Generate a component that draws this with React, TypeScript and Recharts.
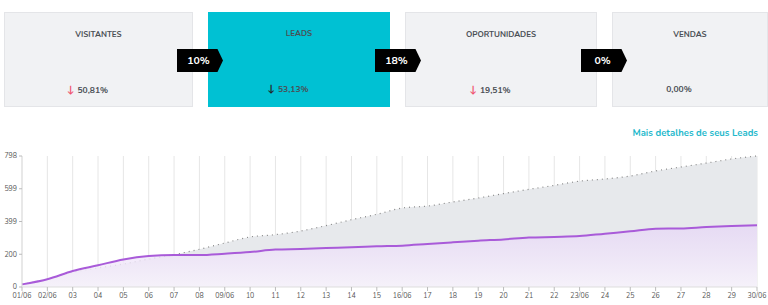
import { ComposedChart, Area, XAxis, YAxis, CartesianGrid } from 'recharts'

const days = [
  '01/06', '02/06', '03', '04', '05', '06', '07', '08', '09/06', '10',
  '11', '12', '13', '14', '15', '16/06', '17', '18', '19', '20',
  '21', '22', '23/06', '24', '25', '26', '27', '28', '29', '30/06',
]
const totals = [
  16, 47, 90, 116, 140, 170, 197, 230, 268, 305,
  319, 341, 374, 410, 443, 481, 493, 518, 542, 569,
  595, 619, 645, 658, 676, 707, 731, 755, 780, 798,
]
const leads = [
  16, 47, 97, 132, 168, 189, 195, 195, 203, 213,
  228, 232, 238, 242, 248, 252, 262, 272, 282, 290,
  301, 305, 310, 325, 339, 355, 357, 365, 371, 376,
]
const yTicks = [0, 199.5, 399, 598.5, 798]

const cardTitles = ['VISITANTES', 'LEADS', 'OPORTUNIDADES', 'VENDAS']
const cardValues = ['50,81%', '53,13%', '19,51%', '0,00%']
const cardArrows = ['red', 'black', 'red', '']
const rates = ['10%', '18%', '0%']

const cardX = [4, 208, 405, 612]
const cardW = [189, 182, 192, 156]
const badgeX = [177, 375, 581]

const data = days.map((d, i) => ({ day: d, total: totals[i], leads: leads[i] }))

const font = 'Nunito, Lato, "Open Sans", sans-serif'

function Card({ i }: { i: number }) {
  const active = i === 1
  const arrow = cardArrows[i]
  return (
    <div
      style={{
        position: 'absolute', left: cardX[i], top: 12, width: cardW[i], height: 95,
        background: active ? '#00c1d3' : '#f1f2f4',
        border: active ? 'none' : '1px solid #e4e5e8', boxSizing: 'border-box',
      }}
    >
      <div style={{ position: 'absolute', top: 16, width: '100%', textAlign: 'center', fontSize: 8, fontWeight: 700, color: '#4a4f55' }}>
        {cardTitles[i]}
      </div>
      <div style={{ position: 'absolute', top: 70, width: '100%', paddingRight: 22, boxSizing: 'border-box', textAlign: 'center', fontSize: 8.5, fontWeight: 700, color: '#4a4f55' }}>
        {arrow && (
          <span style={{ color: arrow === 'red' ? '#f0506e' : '#222', marginRight: 3, fontSize: 10 }}>↓</span>
        )}
        {cardValues[i]}
      </div>
    </div>
  )
}

function Badge({ i }: { i: number }) {
  return (
    <div
      style={{
        position: 'absolute', left: badgeX[i], top: 49, width: 46, height: 23,
        background: '#000', color: '#fff', fontSize: 10.5, fontWeight: 700,
        clipPath: 'polygon(0 0, 88% 0, 100% 50%, 88% 100%, 0 100%)',
        display: 'flex', alignItems: 'center', justifyContent: 'center', paddingRight: 3, boxSizing: 'border-box',
      }}
    >
      {rates[i]}
    </div>
  )
}

export default function App() {
  return (
    <div style={{ position: 'absolute', left: 0, top: 0, width: 768, height: 305, background: '#fff', fontFamily: font, overflow: 'hidden' }}>
      {cardTitles.map((_, i) => <Card key={i} i={i} />)}
      {rates.map((_, i) => <Badge key={i} i={i} />)}
      <div style={{ position: 'absolute', right: 10, top: 126, fontSize: 9.5, fontWeight: 700, color: '#1fb9cc' }}>
        Mais detalhes de seus Leads
      </div>
      <div style={{ position: 'absolute', left: 0, top: 140 }}>
        <ComposedChart width={768} height={165} data={data} margin={{ top: 16, right: 11, left: 0, bottom: 0 }}>
          <defs>
            <linearGradient id="leadFill" x1="0" y1="0" x2="0" y2="1">
              <stop offset="0%" stopColor="#e6d6f6" stopOpacity={0.75} />
              <stop offset="100%" stopColor="#f8f3fc" stopOpacity={0.85} />
            </linearGradient>
          </defs>
          <CartesianGrid horizontal={false} stroke="#e6e6e6" />
          <XAxis
            dataKey="day" interval={0} height={18}
            tick={{ fontSize: 7, fill: '#555' }} tickSize={4}
            axisLine={{ stroke: '#ddd' }} tickLine={{ stroke: '#bbb' }}
          />
          <YAxis
            domain={[0, 798]} ticks={yTicks} width={22}
            tickFormatter={(v: number) => String(Math.round(v))}
            tick={{ fontSize: 7, fill: '#555' }} tickSize={3}
            axisLine={{ stroke: '#ddd' }} tickLine={{ stroke: '#bbb' }}
          />
          <Area
            type="monotone" dataKey="total" stroke="#888" strokeWidth={1.2}
            strokeDasharray="1 4" fill="#e7e9ec" fillOpacity={1}
            isAnimationActive={false} dot={false} activeDot={false}
          />
          <Area
            type="monotone" dataKey="leads" stroke="#a95bd9" strokeWidth={2}
            fill="url(#leadFill)" fillOpacity={1}
            isAnimationActive={false} dot={false} activeDot={false}
          />
        </ComposedChart>
      </div>
    </div>
  )
}
